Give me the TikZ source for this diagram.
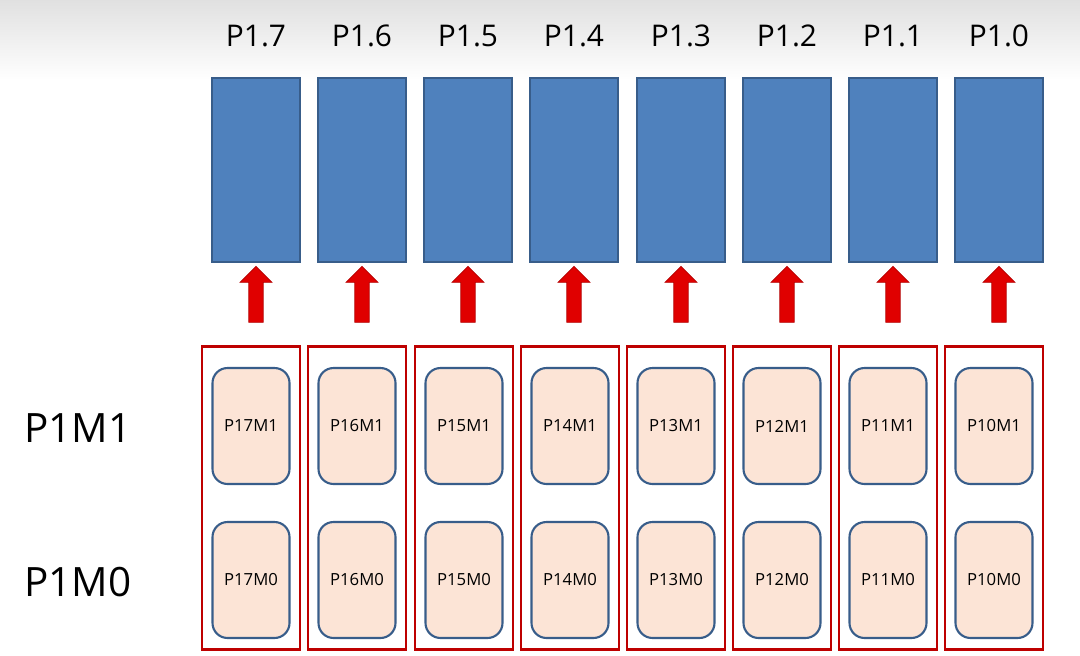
\documentclass[tikz,border=0pt]{standalone}
\usepackage{fontspec}
\setmainfont{Open Sans}
\usetikzlibrary{shapes.arrows}
\definecolor{blu}{HTML}{4F81BD}
\definecolor{bluD}{HTML}{385D8A}
\definecolor{rd}{HTML}{E00000}
\definecolor{pch}{HTML}{FCE4D6}
\begin{document}
\begin{tikzpicture}[x=0.02cm,y=-0.02cm,
 reg/.style={draw=bluD,fill=blu,line width=1pt,minimum width=1.76cm,minimum height=3.68cm,inner sep=0},
 grp/.style={draw=rd!85!black,line width=1.3pt,minimum width=1.96cm,minimum height=6.06cm,inner sep=0},
 bit/.style={draw=bluD,fill=pch,line width=1.2pt,rounded corners=0.3cm,minimum width=1.54cm,minimum height=2.32cm,inner sep=0,font=\fontsize{9.5}{11}\selectfont},
 arr/.style={single arrow,draw=rd!80!black,fill=rd,shape border rotate=90,minimum height=1.12cm,minimum width=0.64cm,single arrow head extend=0.13cm,inner sep=0.1cm},
 lbl/.style={font=\fontsize{17}{20}\selectfont},
 side/.style={font=\fontsize{23}{27}\selectfont}]
\shade[top color=black!12,bottom color=white] (0,0) rectangle (1080,80);
\fill[white] (0,80) rectangle (1080,656);
\useasboundingbox (0,0) rectangle (1080,656);
\foreach \i/\b/\g in {7/256/251,6/362/357,5/468/464,4/574/570,3/681/676,2/787/782,1/893/888,0/999/994}{
 \node[lbl] (t\i) at (\b,36) {P1.\i};
 \node[reg] (r\i) at (\b,170) {};
 \node[arr] (a\i) at (\b,298) {};
 \node[grp] (g\i) at (\g,498) {};
 \node[bit] (m1\i) at (\g,426) {P1\i M1};
 \node[bit] (m0\i) at (\g,580) {P1\i M0};
}
\node[side] (s1) at (78,428) {P1M1};
\node[side] (s0) at (78,582) {P1M0};
\end{tikzpicture}
\end{document}
